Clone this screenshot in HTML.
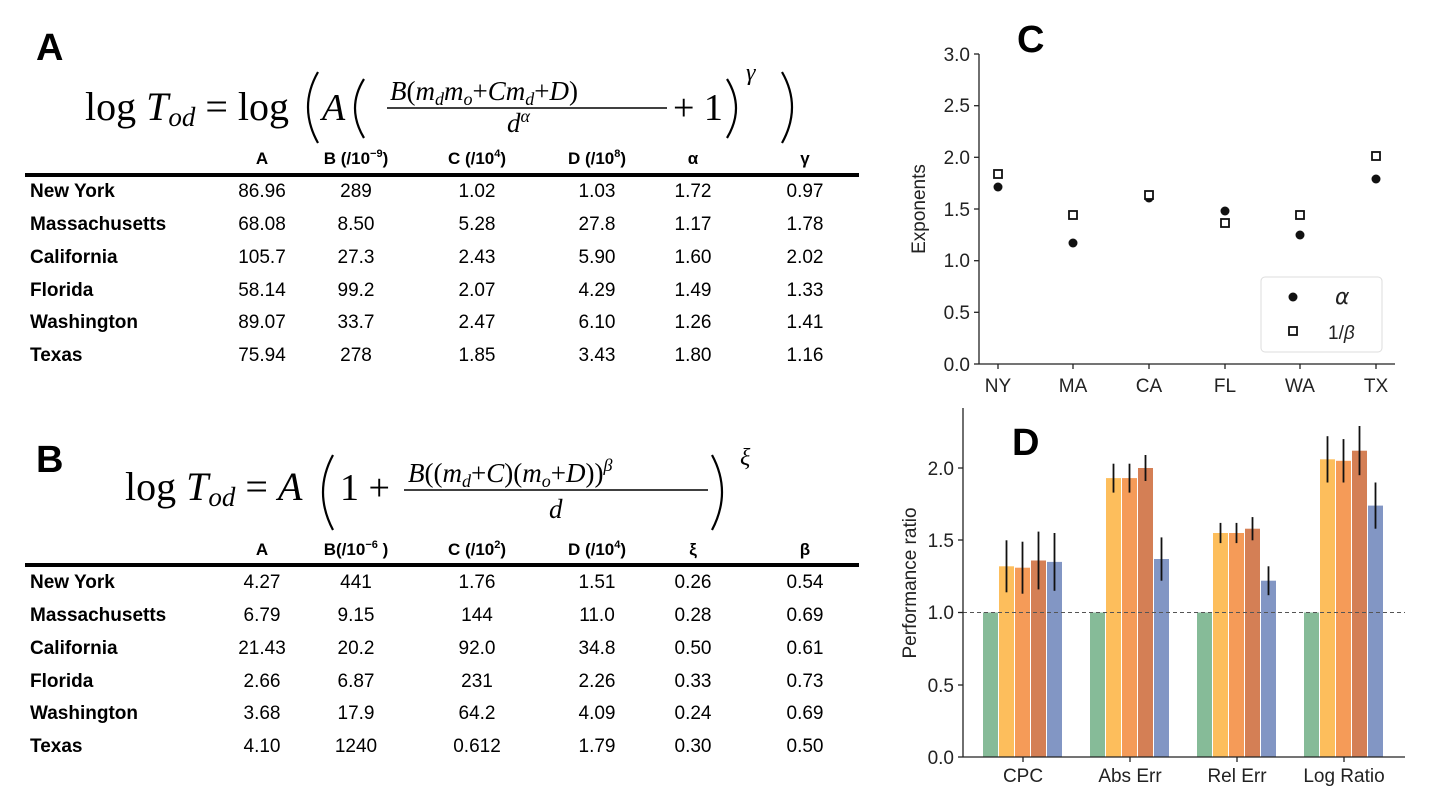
<!DOCTYPE html>
<html><head><meta charset="utf-8"><style>
html,body{margin:0;padding:0;background:#fff;}
svg{display:block;}
.lb{font-family:"Liberation Sans",sans-serif;font-weight:bold;font-size:19px;}
.nm{font-family:"Liberation Sans",sans-serif;font-size:19px;}
.hd{font-family:"Liberation Sans",sans-serif;font-weight:bold;font-size:17px;}
.mt{font-family:"Liberation Serif",serif;font-size:36px;}
.mi{font-family:"Liberation Serif",serif;font-style:italic;}
.ax{font-family:"Liberation Sans",sans-serif;font-size:19px;fill:#222;}
.big{font-family:"Liberation Sans",sans-serif;font-weight:bold;font-size:38px;}
</style></head><body>
<svg width="1432" height="802" viewBox="0 0 1432 802" xmlns="http://www.w3.org/2000/svg">
<!-- Panel A -->
<text x="36" y="60" class="big">A</text>
<g class="mt">
<text x="85" y="120" font-size="40">log <tspan class="mi">T</tspan><tspan class="mi" font-size="27" dy="6">od</tspan><tspan dy="-6"> = log</tspan></text>
<text x="322" y="120" class="mi" font-size="38">A</text>
<text x="390" y="100" font-size="27"><tspan class="mi">B</tspan>(<tspan class="mi">m</tspan><tspan class="mi" font-size="18" dy="5">d</tspan><tspan class="mi" dy="-5">m</tspan><tspan class="mi" font-size="18" dy="5">o</tspan><tspan dy="-5">+</tspan><tspan class="mi">Cm</tspan><tspan class="mi" font-size="18" dy="5">d</tspan><tspan dy="-5">+</tspan><tspan class="mi">D</tspan>)</text>
<line x1="387" y1="108" x2="667" y2="108" stroke="#000" stroke-width="1.5"/>
<text x="507" y="132" font-size="27" class="mi">d<tspan font-size="18" dy="-10">α</tspan></text>
<text x="673" y="120" font-size="38">+ 1</text>
<text x="746" y="80" font-size="24" class="mi">γ</text>
</g>
<g fill="none" stroke="#000" stroke-width="2.2">
<path d="M318,72 Q298,107 318,143"/>
<path d="M364,79 Q346,108 364,138"/>
<path d="M727,79 Q745,108 727,138"/>
<path d="M782,72 Q802,107 782,143"/>
<path d="M333,455 Q313,492 333,530"/>
<path d="M712,455 Q732,492 712,530"/>
</g>
<g class="hd" text-anchor="middle">
<text x="262" y="164">A</text><text x="356" y="164">B (/10<tspan font-size="11" dy="-7">−9</tspan><tspan dy="7">)</tspan></text>
<text x="477" y="164">C (/10<tspan font-size="11" dy="-7">4</tspan><tspan dy="7">)</tspan></text>
<text x="597" y="164">D (/10<tspan font-size="11" dy="-7">8</tspan><tspan dy="7">)</tspan></text>
<text x="693" y="164">α</text><text x="805" y="164">γ</text>
</g>
<rect x="25" y="173" width="834" height="4" fill="#000"/>
<g class="lb">
<text x="30" y="197">New York</text><text x="30" y="230">Massachusetts</text><text x="30" y="263">California</text>
<text x="30" y="296">Florida</text><text x="30" y="328">Washington</text><text x="30" y="361">Texas</text>
</g>
<g class="nm" text-anchor="middle">
<text x="262" y="197">86.96</text><text x="356" y="197">289</text><text x="477" y="197">1.02</text><text x="597" y="197">1.03</text><text x="693" y="197">1.72</text><text x="805" y="197">0.97</text>
<text x="262" y="230">68.08</text><text x="356" y="230">8.50</text><text x="477" y="230">5.28</text><text x="597" y="230">27.8</text><text x="693" y="230">1.17</text><text x="805" y="230">1.78</text>
<text x="262" y="263">105.7</text><text x="356" y="263">27.3</text><text x="477" y="263">2.43</text><text x="597" y="263">5.90</text><text x="693" y="263">1.60</text><text x="805" y="263">2.02</text>
<text x="262" y="296">58.14</text><text x="356" y="296">99.2</text><text x="477" y="296">2.07</text><text x="597" y="296">4.29</text><text x="693" y="296">1.49</text><text x="805" y="296">1.33</text>
<text x="262" y="328">89.07</text><text x="356" y="328">33.7</text><text x="477" y="328">2.47</text><text x="597" y="328">6.10</text><text x="693" y="328">1.26</text><text x="805" y="328">1.41</text>
<text x="262" y="361">75.94</text><text x="356" y="361">278</text><text x="477" y="361">1.85</text><text x="597" y="361">3.43</text><text x="693" y="361">1.80</text><text x="805" y="361">1.16</text>
</g>
<!-- Panel B -->
<text x="36" y="472" class="big">B</text>
<g class="mt">
<text x="125" y="500" font-size="40">log <tspan class="mi">T</tspan><tspan class="mi" font-size="27" dy="6">od</tspan><tspan dy="-6"> = </tspan><tspan class="mi">A</tspan></text>
<text x="340" y="500" font-size="38">1 +</text>
<text x="408" y="482" font-size="27"><tspan class="mi">B</tspan>((<tspan class="mi">m</tspan><tspan class="mi" font-size="18" dy="5">d</tspan><tspan dy="-5">+</tspan><tspan class="mi">C</tspan>)(<tspan class="mi">m</tspan><tspan class="mi" font-size="18" dy="5">o</tspan><tspan dy="-5">+</tspan><tspan class="mi">D</tspan>))<tspan class="mi" font-size="18" dy="-11">β</tspan></text>
<line x1="404" y1="490" x2="708" y2="490" stroke="#000" stroke-width="1.5"/>
<text x="549" y="518" font-size="27" class="mi">d</text>
<text x="740" y="465" font-size="24" class="mi">ξ</text>
</g>
<g class="hd" text-anchor="middle">
<text x="262" y="555">A</text><text x="356" y="555">B(/10<tspan font-size="11" dy="-7">−6</tspan><tspan dy="7"> )</tspan></text>
<text x="477" y="555">C (/10<tspan font-size="11" dy="-7">2</tspan><tspan dy="7">)</tspan></text>
<text x="597" y="555">D (/10<tspan font-size="11" dy="-7">4</tspan><tspan dy="7">)</tspan></text>
<text x="693" y="555">ξ</text><text x="805" y="555">β</text>
</g>
<rect x="25" y="563" width="834" height="4" fill="#000"/>
<g class="lb">
<text x="30" y="588">New York</text><text x="30" y="621">Massachusetts</text><text x="30" y="654">California</text>
<text x="30" y="687">Florida</text><text x="30" y="719">Washington</text><text x="30" y="752">Texas</text>
</g>
<g class="nm" text-anchor="middle">
<text x="262" y="588">4.27</text><text x="356" y="588">441</text><text x="477" y="588">1.76</text><text x="597" y="588">1.51</text><text x="693" y="588">0.26</text><text x="805" y="588">0.54</text>
<text x="262" y="621">6.79</text><text x="356" y="621">9.15</text><text x="477" y="621">144</text><text x="597" y="621">11.0</text><text x="693" y="621">0.28</text><text x="805" y="621">0.69</text>
<text x="262" y="654">21.43</text><text x="356" y="654">20.2</text><text x="477" y="654">92.0</text><text x="597" y="654">34.8</text><text x="693" y="654">0.50</text><text x="805" y="654">0.61</text>
<text x="262" y="687">2.66</text><text x="356" y="687">6.87</text><text x="477" y="687">231</text><text x="597" y="687">2.26</text><text x="693" y="687">0.33</text><text x="805" y="687">0.73</text>
<text x="262" y="719">3.68</text><text x="356" y="719">17.9</text><text x="477" y="719">64.2</text><text x="597" y="719">4.09</text><text x="693" y="719">0.24</text><text x="805" y="719">0.69</text>
<text x="262" y="752">4.10</text><text x="356" y="752">1240</text><text x="477" y="752">0.612</text><text x="597" y="752">1.79</text><text x="693" y="752">0.30</text><text x="805" y="752">0.50</text>
</g>
<!-- Panel C -->
<text x="1017" y="52" class="big">C</text>
<g stroke="#222" stroke-width="1.3" fill="none">
<line x1="979" y1="54" x2="979" y2="364"/><line x1="979" y1="364" x2="1395" y2="364"/>
<line x1="974" y1="54" x2="979" y2="54"/><line x1="974" y1="105.7" x2="979" y2="105.7"/><line x1="974" y1="157.3" x2="979" y2="157.3"/><line x1="974" y1="209" x2="979" y2="209"/><line x1="974" y1="260.7" x2="979" y2="260.7"/><line x1="974" y1="312.3" x2="979" y2="312.3"/><line x1="974" y1="364" x2="979" y2="364"/>
<line x1="998" y1="364" x2="998" y2="369"/><line x1="1073" y1="364" x2="1073" y2="369"/><line x1="1149" y1="364" x2="1149" y2="369"/><line x1="1225" y1="364" x2="1225" y2="369"/><line x1="1300" y1="364" x2="1300" y2="369"/><line x1="1376" y1="364" x2="1376" y2="369"/>
</g>
<g class="ax" text-anchor="end">
<text x="970" y="61">3.0</text><text x="970" y="112">2.5</text><text x="970" y="164">2.0</text><text x="970" y="216">1.5</text><text x="970" y="267">1.0</text><text x="970" y="319">0.5</text><text x="970" y="371">0.0</text>
</g>
<g class="ax" text-anchor="middle" font-size="20">
<text x="998" y="392">NY</text><text x="1073" y="392">MA</text><text x="1149" y="392">CA</text><text x="1225" y="392">FL</text><text x="1300" y="392">WA</text><text x="1376" y="392">TX</text>
</g>
<text class="ax" transform="translate(925,209) rotate(-90)" text-anchor="middle">Exponents</text>
<g fill="#111">
<circle cx="998" cy="187" r="4.5"/><circle cx="1073" cy="243" r="4.5"/><circle cx="1149" cy="198" r="4.5"/><circle cx="1225" cy="211" r="4.5"/><circle cx="1300" cy="235" r="4.5"/><circle cx="1376" cy="179" r="4.5"/>
</g>
<g fill="#fff" stroke="#111" stroke-width="1.8">
<rect x="994" y="170" width="8" height="8"/><rect x="1069" y="211" width="8" height="8"/><rect x="1145" y="191" width="8" height="8"/><rect x="1221" y="219" width="8" height="8"/><rect x="1296" y="211" width="8" height="8"/><rect x="1372" y="152" width="8" height="8"/>
</g>
<rect x="1261" y="277" width="121" height="75" rx="4" fill="#fff" stroke="#ddd"/>
<circle cx="1293" cy="297" r="4.5" fill="#111"/>
<rect x="1289" y="327" width="8" height="8" fill="#fff" stroke="#111" stroke-width="1.8"/>
<text x="1335" y="304" font-size="22" style="font-family:'DejaVu Sans',sans-serif;font-style:italic;fill:#222">α</text>
<text x="1328" y="339" class="ax" font-size="21">1/<tspan font-style="italic">β</tspan></text>
<!-- Panel D -->
<text x="1012" y="455" class="big">D</text>
<g>
<rect x="983" y="612.5" width="15" height="144.5" fill="#86bb98"/>
<rect x="999" y="566.3" width="15" height="190.7" fill="#fdbe5c"/>
<rect x="1015" y="567.7" width="15" height="189.3" fill="#f59b58"/>
<rect x="1031" y="560.5" width="15" height="196.5" fill="#d47f55"/>
<rect x="1047" y="561.9" width="15" height="195.1" fill="#8296c4"/>
<rect x="1090" y="612.5" width="15" height="144.5" fill="#86bb98"/>
<rect x="1106" y="478.1" width="15" height="278.9" fill="#fdbe5c"/>
<rect x="1122" y="478.1" width="15" height="278.9" fill="#f59b58"/>
<rect x="1138" y="468" width="15" height="289" fill="#d47f55"/>
<rect x="1154" y="559" width="15" height="198" fill="#8296c4"/>
<rect x="1197" y="612.5" width="15" height="144.5" fill="#86bb98"/>
<rect x="1213" y="533" width="15" height="224" fill="#fdbe5c"/>
<rect x="1229" y="533" width="15" height="224" fill="#f59b58"/>
<rect x="1245" y="528.7" width="15" height="228.3" fill="#d47f55"/>
<rect x="1261" y="580.7" width="15" height="176.3" fill="#8296c4"/>
<rect x="1304" y="612.5" width="15" height="144.5" fill="#86bb98"/>
<rect x="1320" y="459.3" width="15" height="297.7" fill="#fdbe5c"/>
<rect x="1336" y="460.8" width="15" height="296.2" fill="#f59b58"/>
<rect x="1352" y="450.7" width="15" height="306.3" fill="#d47f55"/>
<rect x="1368" y="505.6" width="15" height="251.4" fill="#8296c4"/>
</g>
<g stroke="#111" stroke-width="1.8">
<line x1="1006.5" x2="1006.5" y1="540.3" y2="592.3"/><line x1="1022.5" x2="1022.5" y1="541.7" y2="593.7"/><line x1="1038.5" x2="1038.5" y1="531.6" y2="589.4"/><line x1="1054.5" x2="1054.5" y1="533" y2="590.8"/>
<line x1="1113.5" x2="1113.5" y1="463.7" y2="492.6"/><line x1="1129.5" x2="1129.5" y1="463.7" y2="492.6"/><line x1="1145.5" x2="1145.5" y1="455" y2="481"/><line x1="1161.5" x2="1161.5" y1="537.4" y2="580.7"/>
<line x1="1220.5" x2="1220.5" y1="522.9" y2="543.1"/><line x1="1236.5" x2="1236.5" y1="522.9" y2="543.1"/><line x1="1252.5" x2="1252.5" y1="517.1" y2="540.3"/><line x1="1268.5" x2="1268.5" y1="566.3" y2="595.2"/>
<line x1="1327.5" x2="1327.5" y1="436.2" y2="482.5"/><line x1="1343.5" x2="1343.5" y1="439.1" y2="482.5"/><line x1="1359.5" x2="1359.5" y1="426" y2="475.2"/><line x1="1375.5" x2="1375.5" y1="482.5" y2="528.7"/>
</g>
<line x1="963" x2="1405" y1="612.5" y2="612.5" stroke="#555" stroke-width="1" stroke-dasharray="4,3"/>
<g stroke="#222" stroke-width="1.3" fill="none">
<line x1="963" y1="408" x2="963" y2="757"/><line x1="963" y1="757" x2="1405" y2="757"/>
<line x1="958" y1="468" x2="963" y2="468"/><line x1="958" y1="540" x2="963" y2="540"/><line x1="958" y1="612.5" x2="963" y2="612.5"/><line x1="958" y1="685" x2="963" y2="685"/><line x1="958" y1="757" x2="963" y2="757"/>
<line x1="1023" y1="757" x2="1023" y2="762"/><line x1="1130" y1="757" x2="1130" y2="762"/><line x1="1237" y1="757" x2="1237" y2="762"/><line x1="1344" y1="757" x2="1344" y2="762"/>
</g>
<g class="ax" text-anchor="end">
<text x="954" y="475">2.0</text><text x="954" y="547">1.5</text><text x="954" y="619">1.0</text><text x="954" y="692">0.5</text><text x="954" y="764">0.0</text>
</g>
<g class="ax" text-anchor="middle" font-size="20">
<text x="1023" y="782">CPC</text><text x="1130" y="782">Abs Err</text><text x="1237" y="782">Rel Err</text><text x="1344" y="782">Log Ratio</text>
</g>
<text class="ax" transform="translate(916,583) rotate(-90)" text-anchor="middle">Performance ratio</text>
</svg>
</body></html>
